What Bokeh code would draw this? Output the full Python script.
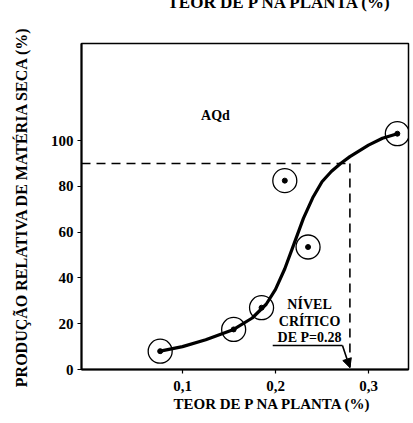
from bokeh.plotting import figure
from bokeh.models import Range1d, FixedTicker, Label, Arrow, NormalHead, Title
from bokeh.embed import file_html
from bokeh.resources import INLINE

# ---- data ----
teor_p = [0.076, 0.155, 0.185, 0.210, 0.235, 0.331]
producao = [8.0, 17.5, 27.0, 82.5, 53.5, 103.0]

curve_x = [0.076, 0.10, 0.125, 0.155, 0.175, 0.19, 0.20, 0.21, 0.22, 0.23,
           0.24, 0.25, 0.26, 0.27, 0.28, 0.29, 0.30, 0.315, 0.331]
curve_y = [8.0, 10.0, 13.0, 17.5, 22.5, 28.5, 35.0, 44.0, 55.0, 66.0,
           75.0, 82.0, 86.5, 90.0, 93.0, 95.5, 98.0, 101.0, 103.0]

x_ticks = [0.1, 0.2, 0.3]
x_tick_labels = ["0,1", "0,2", "0,3"]
y_ticks = [0, 20, 40, 60, 80, 100]

nivel_critico = 0.28
producao_critica = 90

x_title = "TEOR DE P NA PLANTA (%)"
y_title = "PRODUÇÃO RELATIVA DE MATÉRIA SECA (%)"
note_lines = ["NÍVEL", "CRÍTICO", "DE P=0.28"]

FONT = "Liberation Serif"

x0, x1 = -0.0086, 0.343
y0, y1 = 0.0, 142.4

TOP_SHIFT = 40  # part of the figure above the page (the top title is cropped)

p = figure(width=413, height=423 + TOP_SHIFT, output_backend="svg",
           toolbar_location=None,
           x_range=Range1d(x0, x1), y_range=Range1d(y0, y1),
           min_border_left=81, min_border_right=5, min_border_top=43 + TOP_SHIFT,
           min_border_bottom=54, margin=(-TOP_SHIFT, 0, 0, 0))
p.background_fill_color = "white"
p.border_fill_color = "white"
p.grid.visible = False
p.outline_line_color = "black"
p.outline_line_width = 1.5

for ax in (p.xaxis[0], p.yaxis[0]):
    ax.axis_line_width = 2
    ax.major_tick_line_width = 1.2
    ax.major_tick_out = 4
    ax.major_tick_in = 0
    ax.minor_tick_line_color = None
    ax.major_label_text_font = FONT
    ax.major_label_text_font_style = "bold"
    ax.major_label_text_font_size = "15px"
    ax.major_label_text_color = "black"
    ax.axis_label_text_font = FONT
    ax.axis_label_text_font_style = "bold"
    ax.axis_label_text_color = "black"

p.xaxis.ticker = FixedTicker(ticks=x_ticks)
p.xaxis.major_label_overrides = dict(zip(x_ticks, x_tick_labels))
p.xaxis.major_label_standoff = 7

p.yaxis.ticker = FixedTicker(ticks=y_ticks)
p.yaxis.major_label_standoff = 4
p.yaxis.axis_label = y_title
p.yaxis.axis_label_text_font_size = "16px"
p.yaxis.axis_label_standoff = 18

# x axis title (below), shifted right as in the reference
p.add_layout(Title(text=x_title, align="left", offset=92, standoff=1,
                   text_font=FONT, text_font_size="15px",
                   text_font_style="bold", text_color="black"), "below")

# cropped title at the very top of the page
p.add_layout(Title(text=x_title, align="left", offset=86, standoff=60,
                   vertical_align="top",
                   text_font=FONT, text_font_size="17px",
                   text_font_style="bold", text_color="black"), "above")

# dashed guide lines at the critical level
p.line([x0, nivel_critico], [producao_critica, producao_critica],
       line_color="black", line_width=1.6, line_dash="9 6")
p.line([nivel_critico, nivel_critico], [producao_critica, 0],
       line_color="black", line_width=1.6, line_dash="9 6")

# fitted curve
p.line(curve_x, curve_y, line_color="black", line_width=3.2,
       line_join="round", line_cap="round")

# observed points: open circle with centre dot
p.scatter(teor_p, producao, size=24, fill_color=None, line_color="black",
          line_width=1.3)
p.scatter(teor_p, producao, size=5, fill_color="black", line_color="black")

# annotation text
note_x = 0.2366
note_y = [28.5, 21.0, 13.8]
for t, yy in zip(note_lines, note_y):
    p.add_layout(Label(x=note_x, y=yy, text=t, text_align="center",
                       text_baseline="alphabetic", text_font=FONT,
                       text_font_size="14px", text_font_style="bold",
                       text_color="black"))

# arrow pointing at the critical level on the x axis
p.line([0.197, 0.272], [10.5, 10.5], line_color="black", line_width=1.6)
p.add_layout(Arrow(end=NormalHead(size=9, fill_color="black", line_color="black"),
                   x_start=0.272, y_start=10.5, x_end=nivel_critico, y_end=0.8,
                   line_color="black", line_width=1.6))

p.add_layout(Label(x=0.1355, y=111.0, text="AQd", text_align="center",
                   text_baseline="alphabetic", text_font=FONT,
                   text_font_size="14px", text_font_style="bold",
                   text_color="black"))

open("out.html", "w").write(file_html(p, INLINE))
